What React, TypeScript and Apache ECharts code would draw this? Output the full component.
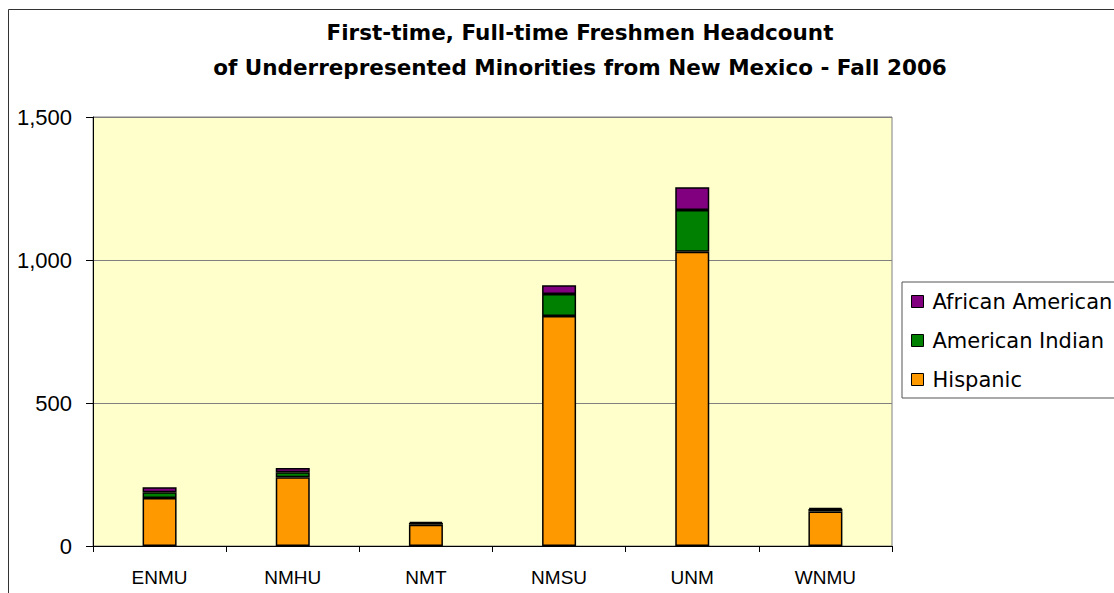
import React, { useEffect, useRef } from "react";
import * as echarts from "echarts";

const categories = ["ENMU", "NMHU", "NMT", "NMSU", "UNM", "WNMU"];
const hispanic = [168, 240, 74, 804, 1029, 121];
const americanIndian = [20, 18, 6, 77, 146, 8];
const africanAmerican = [17, 15, 5, 31, 79, 5];
const yTicks = [0, 500, 1000, 1500];

const titleLines = [
  "First-time, Full-time Freshmen Headcount",
  "of Underrepresented Minorities from New Mexico - Fall 2006",
];

export default function App() {
  const ref = useRef<HTMLDivElement>(null);
  useEffect(() => {
    if (!ref.current) return;
    const chart = echarts.init(ref.current, null, { renderer: "svg" });
    const barStyle = (color: string) => ({
      color,
      borderColor: "#000",
      borderWidth: 1.5,
    });
    chart.setOption({
      animation: false,
      backgroundColor: "#ffffff",
      title: {
        text: titleLines.join("\n"),
        left: 575,
        top: 10,
        textAlign: "center",
        textStyle: {
          fontFamily: "DejaVu Sans",
          fontWeight: "bold",
          fontSize: 21.5,
          lineHeight: 35,
          color: "#000",
        },
      },
      legend: {
        orient: "vertical",
        left: 902,
        top: 282,
        padding: [9, 20, 8, 9],
        itemGap: 18,
        itemWidth: 12,
        itemHeight: 12,
        borderColor: "#555",
        borderWidth: 1,
        backgroundColor: "#fff",
        icon: "rect",
        data: ["African American", "American Indian", "Hispanic"],
        textStyle: {
          fontFamily: "DejaVu Sans",
          fontSize: 21,
          color: "#000",
          padding: [0, 0, 0, 4],
        },
        itemStyle: { borderColor: "#000", borderWidth: 1 },
      },
      grid: {
        left: 93,
        top: 117,
        width: 799,
        height: 429,
        show: true,
        backgroundColor: "#FFFFCC",
        borderColor: "#808080",
        borderWidth: 1,
      },
      xAxis: {
        type: "category",
        data: categories,
        axisLine: { show: true, lineStyle: { color: "#000" } },
        axisTick: { show: true, length: 6, alignWithLabel: false, lineStyle: { color: "#000" } },
        axisLabel: {
          fontFamily: "Liberation Sans",
          fontSize: 19,
          color: "#000",
          margin: 22,
        },
      },
      yAxis: {
        type: "value",
        min: yTicks[0],
        max: yTicks[yTicks.length - 1],
        interval: 500,
        axisLine: { show: true, lineStyle: { color: "#000" } },
        axisTick: { show: true, length: 7, lineStyle: { color: "#000" } },
        splitLine: { show: true, lineStyle: { color: "#808080", width: 1 } },
        axisLabel: {
          fontFamily: "Liberation Sans",
          fontSize: 22,
          color: "#000",
          margin: 21,
          formatter: (v: number) => v.toLocaleString("en-US"),
        },
      },
      series: [
        {
          name: "Hispanic",
          type: "bar",
          stack: "total",
          barWidth: 34,
          data: hispanic,
          itemStyle: barStyle("#FF9900"),
        },
        {
          name: "American Indian",
          type: "bar",
          stack: "total",
          barWidth: 34,
          data: americanIndian,
          itemStyle: barStyle("#008000"),
        },
        {
          name: "African American",
          type: "bar",
          stack: "total",
          barWidth: 34,
          data: africanAmerican,
          itemStyle: barStyle("#800080"),
        },
      ],
      graphic: [
        {
          type: "rect",
          shape: { x: 8.5, y: 9.5, width: 1300, height: 800 },
          style: { fill: "none", stroke: "#333", lineWidth: 1 },
          silent: true,
          z: 100,
        },
      ],
    });
    return () => chart.dispose();
  }, []);
  return (
    <div
      ref={ref}
      style={{ position: "fixed", left: 0, top: 0, width: 1114, height: 593 }}
    />
  );
}
